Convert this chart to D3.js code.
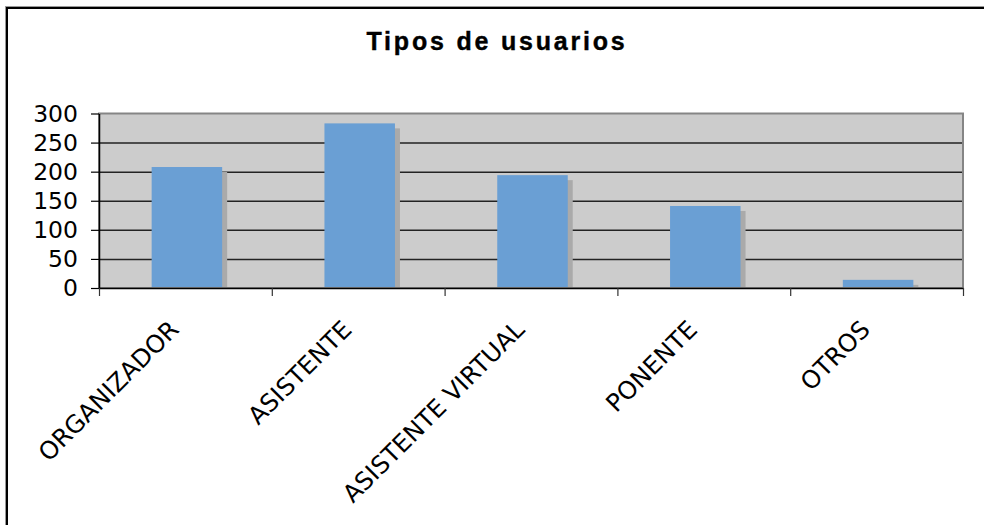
<!DOCTYPE html>
<html>
<head>
<meta charset="utf-8">
<script src="https://cdn.jsdelivr.net/npm/d3@7"></script>
<style>
  html, body { margin: 0; padding: 0; background: #fff; }
  svg { display: block; }
  .lbl { font-family: 'DejaVu Sans', Verdana, sans-serif; }
</style>
</head>
<body>
<svg id="canvas"></svg>
<script>
'use strict';

var categories = ['ORGANIZADOR', 'ASISTENTE', 'ASISTENTE VIRTUAL', 'PONENTE', 'OTROS'];
var values = [208, 283, 194, 141, 14];
var yTicks = [0, 50, 100, 150, 200, 250, 300];
var title = 'Tipos de usuarios';

var WIDTH = 984, HEIGHT = 525;
var plot = {left: 99, right: 963, top: 113.5, bottom: 288};

function RenderChart() {
  var svg = d3.select('#canvas')
      .attr('width', WIDTH)
      .attr('height', HEIGHT);

  // outer frame (cropped at right and bottom)
  svg.append('rect')
      .attr('x', 5.5).attr('y', 6.5)
      .attr('width', 1100).attr('height', 1100)
      .attr('fill', 'none')
      .attr('stroke', '#999')
      .attr('stroke-width', 1);
  svg.append('rect')
      .attr('x', 7).attr('y', 8)
      .attr('width', 1100).attr('height', 1100)
      .attr('fill', 'none')
      .attr('stroke', '#000')
      .attr('stroke-width', 2);

  svg.append('text')
      .attr('x', 497)
      .attr('y', 50)
      .attr('text-anchor', 'middle')
      .style('font-family', "'Liberation Sans', Arial, sans-serif")
      .attr('font-weight', 'bold')
      .attr('font-size', 25)
      .attr('letter-spacing', 2.8)
      .attr('stroke', '#000')
      .attr('stroke-width', 0.4)
      .text(title);

  var x = d3.scaleBand()
      .domain(categories)
      .range([plot.left, plot.right])
      .paddingInner(0.592)
      .paddingOuter(0.296);
  var y = d3.scaleLinear()
      .domain([0, 300])
      .range([plot.bottom, plot.top]);

  // plot background
  svg.append('rect')
      .attr('x', plot.left).attr('y', plot.top)
      .attr('width', plot.right - plot.left)
      .attr('height', plot.bottom - plot.top)
      .attr('fill', '#cccccc');

  // gridlines
  var grid = svg.append('g')
      .attr('transform', 'translate(' + plot.left + ',0)')
      .call(d3.axisLeft(y)
        .tickValues(yTicks.slice(1, -1))
        .tickSize(-(plot.right - plot.left))
        .tickFormat(''));
  grid.select('.domain').remove();
  grid.selectAll('line')
      .attr('stroke', '#222')
      .attr('stroke-width', 1.5);

  // bar shadows, then bars
  svg.append('g').selectAll('rect')
      .data(values)
    .enter().append('rect')
      .attr('x', function(d, i) { return x(categories[i]) + 1.5 + 5; })
      .attr('y', function(d) { return y(d) + 5; })
      .attr('width', x.bandwidth())
      .attr('height', function(d) { return Math.max(0, plot.bottom - y(d) - 5); })
      .attr('fill', '#aaaaaa');
  svg.append('g').selectAll('rect')
      .data(values)
    .enter().append('rect')
      .attr('x', function(d, i) { return x(categories[i]) + 1.5; })
      .attr('y', function(d) { return y(d); })
      .attr('width', x.bandwidth())
      .attr('height', function(d) { return plot.bottom - y(d); })
      .attr('fill', '#6a9fd4');

  // plot border (top/right in gray)
  svg.append('rect')
      .attr('x', plot.left).attr('y', plot.top)
      .attr('width', plot.right - plot.left)
      .attr('height', plot.bottom - plot.top)
      .attr('fill', 'none')
      .attr('stroke', '#858585')
      .attr('stroke-width', 2);

  // y axis
  var yAxis = svg.append('g')
      .attr('transform', 'translate(' + plot.left + ',0)')
      .call(d3.axisLeft(y)
        .tickValues(yTicks)
        .tickSize(8)
        .tickSizeOuter(0)
        .tickPadding(13));
  yAxis.attr('font-family', null).attr('font-size', null);
  yAxis.select('.domain').attr('stroke', '#000').attr('stroke-width', 1.5);
  yAxis.selectAll('line').attr('stroke', '#000').attr('stroke-width', 1.2);
  yAxis.selectAll('text')
      .attr('class', 'lbl')
      .style('font-size', '23.5px')
      .attr('fill', '#000');

  // x axis with ticks between categories
  var xEdges = d3.scaleLinear()
      .domain([0, categories.length])
      .range([plot.left, plot.right]);
  var xAxis = svg.append('g')
      .attr('transform', 'translate(0,' + plot.bottom + ')')
      .call(d3.axisBottom(xEdges)
        .tickValues(d3.range(categories.length + 1))
        .tickSize(8)
        .tickSizeOuter(0)
        .tickFormat(''));
  xAxis.select('.domain').attr('stroke', '#000').attr('stroke-width', 1.5);
  xAxis.selectAll('line').attr('stroke', '#333').attr('stroke-width', 1.2);

  svg.append('g').selectAll('text')
      .data(categories)
    .enter().append('text')
      .attr('class', 'lbl')
      .attr('transform', function(d) {
        var cx = x(d) + x.bandwidth() / 2;
        return 'translate(' + [cx - 5, 331] + ') rotate(-45)';
      })
      .attr('text-anchor', 'end')
      .style('font-size', '24.5px')
      .attr('fill', '#000')
      .text(function(d) { return d; });
}

RenderChart();
</script>
</body>
</html>
